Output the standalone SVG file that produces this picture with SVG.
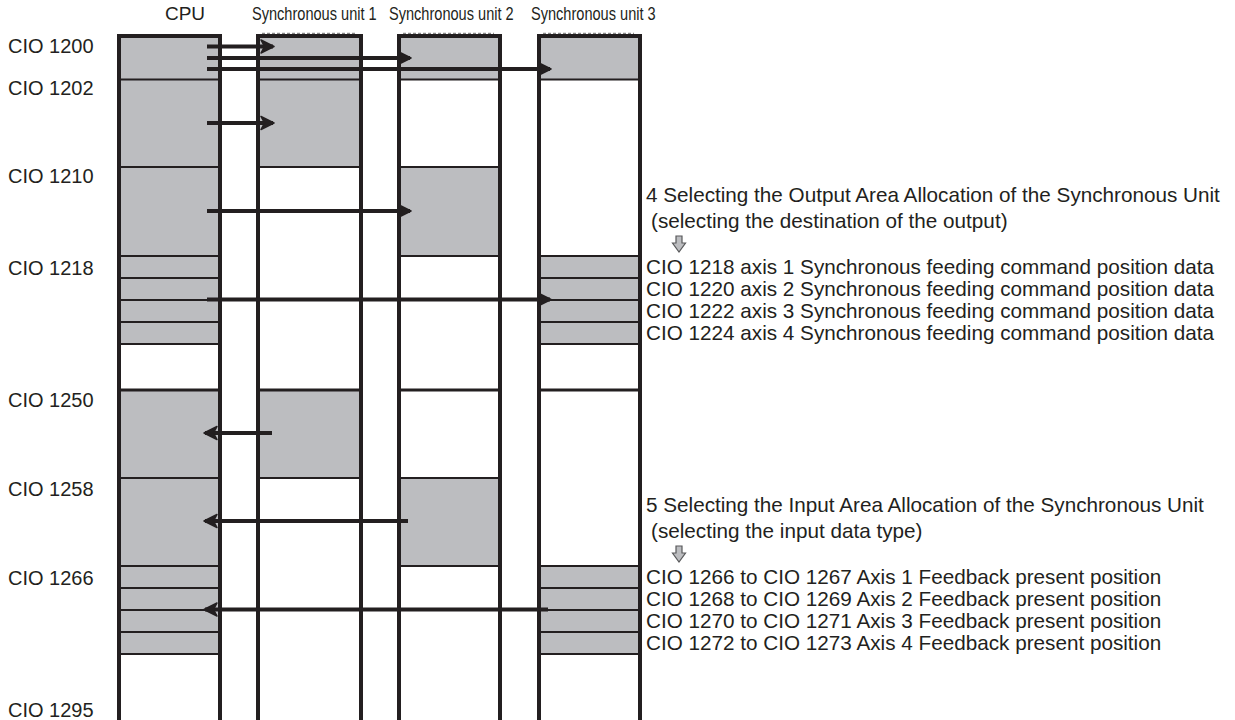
<svg xmlns="http://www.w3.org/2000/svg" width="1235" height="720" viewBox="0 0 1235 720">
<style>
  .lbl { font-family: "Liberation Sans", Arial, sans-serif; font-size: 20px; fill: #231f20; }
  .hdr { font-family: "Liberation Sans", Arial, sans-serif; font-size: 19px; fill: #231f20; }
  .unit { font-family: "Liberation Sans", Arial, sans-serif; font-size: 18px; fill: #231f20; }
  .note { font-family: "Liberation Sans", Arial, sans-serif; font-size: 20.7px; fill: #231f20; }
  .gray { fill: #bcbdc0; }
  .div { stroke: #231f20; stroke-width: 2.2; fill: none; }
  .div3 { stroke: #231f20; stroke-width: 3.2; fill: none; }
  .side { stroke: #231f20; stroke-width: 4; fill: none; }
  .dash { stroke: #8a8a8a; stroke-width: 1.5; stroke-dasharray: 3 2; fill: none; }
  .arr { stroke: #231f20; stroke-width: 4; fill: none; marker-end: url(#ah); }
  .dn { fill: #bcbdc0; stroke: #58595b; stroke-width: 1.2; }
</style>
<defs>
  <marker id="ah" viewBox="-2 -8 16 16" markerUnits="userSpaceOnUse" markerWidth="16" markerHeight="16" refX="11" refY="0" orient="auto">
    <path d="M-1,-6.5 L12,0 L-1,6.5 L2.5,0 Z" fill="#231f20" stroke="#231f20" stroke-width="1.5" stroke-linejoin="round"/>
  </marker>
  <path id="dnArrow" class="dn" d="M-3,0 H3 V7 H6.5 L0,16 L-6.5,7 H-3 Z"/>
</defs>
<rect width="1235" height="720" fill="#ffffff"/>

<g id="labels-left">
  <text class="lbl" x="8" y="53">CIO 1200</text>
  <text class="lbl" x="8" y="95">CIO 1202</text>
  <text class="lbl" x="8" y="183">CIO 1210</text>
  <text class="lbl" x="8" y="275">CIO 1218</text>
  <text class="lbl" x="8" y="407">CIO 1250</text>
  <text class="lbl" x="8" y="496">CIO 1258</text>
  <text class="lbl" x="8" y="585">CIO 1266</text>
  <text class="lbl" x="8" y="717">CIO 1295</text>
</g>

<g id="cpu">
  <text class="hdr" x="185" y="20" text-anchor="middle">CPU</text>
  <rect class="gray" x="119" y="36" width="101" height="308"/>
  <rect class="gray" x="119" y="390" width="101" height="264"/>
  <path class="div" d="M119,79.5 H220 M119,167 H220 M119,256 H220 M119,278 H220 M119,300 H220 M119,322 H220 M119,344 H220 M119,478 H220 M119,566 H220 M119,588 H220 M119,610 H220 M119,632 H220 M119,654 H220"/>
  <path class="div3" d="M119,390 H220"/>
  <path class="side" d="M119,720 V36 H220 V720"/>
</g>

<g id="unit1">
  <text class="unit" transform="translate(252,20) scale(0.81,1)">Synchronous unit 1</text>
  <rect class="gray" x="258" y="36" width="103" height="131"/>
  <rect class="gray" x="258" y="390" width="103" height="88"/>
  <path class="div" d="M258,79.5 H361 M258,167 H361 M258,478 H361"/>
  <path class="div3" d="M258,390 H361"/>
  <path class="dash" d="M262,33.5 H355"/>
  <path class="side" d="M258,720 V36 H361 V720"/>
</g>

<g id="unit2">
  <text class="unit" transform="translate(389,20) scale(0.81,1)">Synchronous unit 2</text>
  <rect class="gray" x="399" y="36" width="101" height="43.5"/>
  <rect class="gray" x="399" y="167" width="101" height="89"/>
  <rect class="gray" x="399" y="478" width="101" height="88"/>
  <path class="div" d="M399,79.5 H500 M399,167 H500 M399,256 H500 M399,478 H500 M399,566 H500"/>
  <path class="div3" d="M399,390 H500"/>
  <path class="dash" d="M403,33.5 H494"/>
  <path class="side" d="M399,720 V36 H500 V720"/>
</g>

<g id="unit3">
  <text class="unit" transform="translate(531,20) scale(0.81,1)">Synchronous unit 3</text>
  <rect class="gray" x="539" y="36" width="101" height="43.5"/>
  <rect class="gray" x="539" y="256" width="101" height="88"/>
  <rect class="gray" x="539" y="566" width="101" height="88"/>
  <path class="div" d="M539,79.5 H640 M539,256 H640 M539,278 H640 M539,300 H640 M539,322 H640 M539,344 H640 M539,566 H640 M539,588 H640 M539,610 H640 M539,632 H640 M539,654 H640"/>
  <path class="div3" d="M539,390 H640"/>
  <path class="dash" d="M543,33.5 H634"/>
  <path class="side" d="M539,720 V36 H640 V720"/>
</g>

<g id="connectors">
  <path class="arr" d="M207,46.5 H273"/>
  <path class="arr" d="M207,58 H410"/>
  <path class="arr" d="M207,69 H550"/>
  <path class="arr" d="M207,123 H273"/>
  <path class="arr" d="M207,211 H410"/>
  <path class="arr" d="M207,299.5 H550"/>
  <path class="arr" d="M272,433 H205"/>
  <path class="arr" d="M408,521 H205"/>
  <path class="arr" d="M548,609.5 H205"/>
</g>

<g id="note-output">
  <text class="note" x="646" y="202">4 Selecting the Output Area Allocation of the Synchronous Unit</text>
  <text class="note" x="651" y="228">(selecting the destination of the output)</text>
  <use href="#dnArrow" x="679" y="236"/>
  <text class="note" x="646" y="274">CIO 1218 axis 1 Synchronous feeding command position data</text>
  <text class="note" x="646" y="296">CIO 1220 axis 2 Synchronous feeding command position data</text>
  <text class="note" x="646" y="318">CIO 1222 axis 3 Synchronous feeding command position data</text>
  <text class="note" x="646" y="340">CIO 1224 axis 4 Synchronous feeding command position data</text>
</g>

<g id="note-input">
  <text class="note" x="646" y="512">5 Selecting the Input Area Allocation of the Synchronous Unit</text>
  <text class="note" x="651" y="538">(selecting the input data type)</text>
  <use href="#dnArrow" x="679" y="546"/>
  <text class="note" x="646" y="584">CIO 1266 to CIO 1267 Axis 1 Feedback present position</text>
  <text class="note" x="646" y="606">CIO 1268 to CIO 1269 Axis 2 Feedback present position</text>
  <text class="note" x="646" y="628">CIO 1270 to CIO 1271 Axis 3 Feedback present position</text>
  <text class="note" x="646" y="650">CIO 1272 to CIO 1273 Axis 4 Feedback present position</text>
</g>
</svg>
